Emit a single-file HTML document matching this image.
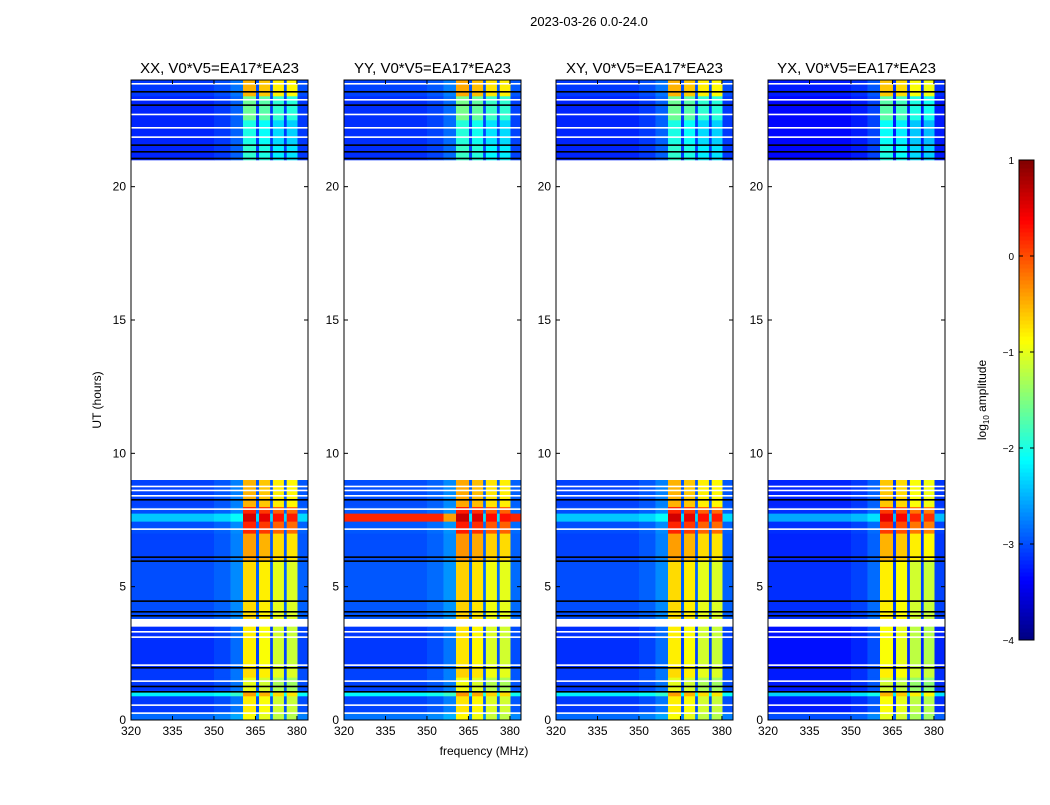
<!DOCTYPE html>
<html><head><meta charset="utf-8"><style>
body{margin:0;background:#fff;font-family:"Liberation Sans",sans-serif}
svg text{font-family:"Liberation Sans",sans-serif}
</style></head><body>
<svg id="chart" width="1050" height="800" xmlns="http://www.w3.org/2000/svg">
<rect width="1050" height="800" fill="#fff"/>
<text x="589" y="26" font-size="13" text-anchor="middle">2023-03-26 0.0-24.0</text>
<text transform="translate(101,400) rotate(-90)" font-size="12" text-anchor="middle">UT (hours)</text>
<text x="484" y="755" font-size="12" text-anchor="middle">frequency (MHz)</text>
<g id="panels"></g>
<g id="cbar"></g>
<text transform="translate(986,400) rotate(-90)" font-size="12" text-anchor="middle">log<tspan font-size="8" dy="3">10</tspan><tspan dy="-3"> amplitude</tspan></text>
</svg>
<script>
const panelTitles = ["XX, V0*V5=EA17*EA23","YY, V0*V5=EA17*EA23","XY, V0*V5=EA17*EA23","YX, V0*V5=EA17*EA23"];
const panelBaseShift = [0, 0.05, 0, -0.15];
const panelHotShift = [0, 0.05, 0, -0.1];
const xTicks = [320,335,350,365,380];
const yTicks = [0,5,10,15,20];
const cbTicks = [1,0,-1,-2,-3,-4];
const rowStart = [0, 0.3, 0.9, 1.1, 1.6, 2.0, 3.8, 6.0, 7.0, 7.45, 7.75, 8.0, 21.0, 21.6, 22.5, 23.4];
const rowEnd   = [0.3, 0.9, 1.1, 1.6, 2.0, 3.5, 6.0, 7.0, 7.45, 7.75, 8.0, 9.0, 21.6, 22.5, 23.4, 24.0];
const rowBase  = [-2.85,-3.1,-2.2,-3.1,-3.1,-3.15,-3.0,-3.05,-3.0,-2.4,-3.0,-3.05,-3.2,-3.2,-3.2,-3.1];
const rowHot   = [-1.0,-0.9,-0.5,-1.1,-0.8,-0.9,-0.8,-0.5,0.1,0.5,0.1,-0.6,-2.0,-2.1,-1.7,-0.6];
const yyRowStart = [7.45];
const yyRowEnd = [7.75];
const yyRowVal = [0.2];
const colStart = [320, 350, 356, 360.5, 365.2, 366.3, 370.3, 371.3, 375.3, 376.3, 380.2];
const colEnd   = [350, 356, 360.5, 365.2, 366.3, 370.3, 371.3, 375.3, 376.3, 380.2, 384];
const colKind  = [0,0,0,1,2,1,2,1,2,1,0];
const colOff   = [0,0.1,0.3,0.1,0.1,0.0,0.1,-0.2,0.1,-0.25,0.1];
const flagHour = [0.25,0.55,1.05,1.25,1.45,1.95,2.05,3.1,3.3,3.9,4.05,4.45,5.95,6.1,7.15,7.9,8.25,8.4,8.6,8.75,21.05,21.3,21.55,21.85,22.2,22.7,23.05,23.25,23.55,23.85];
const flagType = [1,1,0,0,1,0,1,1,1,0,0,0,0,0,1,1,0,1,1,1,0,0,0,1,1,1,0,1,0,1];

function jet(v){
  let t=(v+4)/5; t=Math.max(0,Math.min(1,t));
  const c=x=>Math.round(255*Math.max(0,Math.min(1,x)));
  const r=c(1.5-Math.abs(4*t-3)), g=c(1.5-Math.abs(4*t-2)), b=c(1.5-Math.abs(4*t-1));
  return `rgb(${r},${g},${b})`;
}
const NS="http://www.w3.org/2000/svg";
function mk(tag,attrs,parent){const e=document.createElementNS(NS,tag);for(const k in attrs)e.setAttribute(k,attrs[k]);parent.appendChild(e);return e;}
const panelsG=document.getElementById('panels');
const panelX=[131,344,556,768], pw=177, pTop=80, pBot=720;
const yScale=h=>pBot-(h/24)*(pBot-pTop);
panelX.forEach((px,p)=>{
  const xScale=f=>px+(f-320)/64*pw;
  const g=mk('g',{},panelsG);
  
  
  for(let r=0;r<rowStart.length;r++){
    for(let c=0;c<colStart.length;c++){
      let v;
      if(colKind[c]===1) v=rowHot[r]+panelHotShift[p]+colOff[c];
      else v=rowBase[r]+panelBaseShift[p]+colOff[c];
      if(p===1) for(let k=0;k<yyRowStart.length;k++) if(rowStart[r]>=yyRowStart[k]&&rowEnd[r]<=yyRowEnd[k]&&colKind[c]===0) v=yyRowVal[k]-(c===2?0.6:0);
      const x0=xScale(colStart[c]), x1=xScale(colEnd[c]);
      const y0=yScale(rowEnd[r]), y1=yScale(rowStart[r]);
      const cell=mk('rect',{x:x0,y:y0,width:x1-x0+0.3,height:y1-y0+0.3,fill:jet(v)},g);
      
      
    }
  }
  flagHour.forEach((h,i)=>{
    const ln=mk('rect',{x:px,y:yScale(h)-1,width:pw,height:1.6,fill:flagType[i]?'#fff':'#000'},g);
    
    
  });
  mk('rect',{x:px,y:pTop,width:pw,height:pBot-pTop,fill:'none',stroke:'#000','stroke-width':1},g);
  xTicks.forEach(f=>{
    const x=xScale(f);
    mk('line',{x1:x,y1:pBot,x2:x,y2:pBot-4,stroke:'#000'},g);
    mk('line',{x1:x,y1:pTop,x2:x,y2:pTop+4,stroke:'#000'},g);
    const t=mk('text',{x:x,y:pBot+15,'font-size':12,'text-anchor':'middle'},g);
    t.textContent=f;
    
    
  });
  yTicks.forEach(h=>{
    const y=yScale(h);
    mk('line',{x1:px,y1:y,x2:px+4,y2:y,stroke:'#000'},g);
    mk('line',{x1:px+pw,y1:y,x2:px+pw-4,y2:y,stroke:'#000'},g);
    const t=mk('text',{x:px-5,y:y+4,'font-size':12,'text-anchor':'end'},g);
    t.textContent=h;
    
    
  });
  const tt=mk('text',{x:px+pw/2,y:73,'font-size':15,'text-anchor':'middle'},g);
  tt.textContent=panelTitles[p];
  
  
});
const cb=document.getElementById('cbar');
const cbX=1019,cbW=15,cbTop=160,cbBot=640;
const cbY=v=>cbBot-(v+4)/5*(cbBot-cbTop);
for(let i=0;i<120;i++){
  const v0=-4+5*i/120, v1=-4+5*(i+1)/120;
  mk('rect',{x:cbX,y:cbY(v1),width:cbW,height:cbY(v0)-cbY(v1)+0.5,fill:jet((v0+v1)/2)},cb);
}
mk('rect',{x:cbX,y:cbTop,width:cbW,height:cbBot-cbTop,fill:'none',stroke:'#000'},cb);
cbTicks.forEach(v=>{
  const y=cbY(v);
  mk('line',{x1:cbX,y1:y,x2:cbX+4,y2:y,stroke:'#000'},cb);
  mk('line',{x1:cbX+cbW,y1:y,x2:cbX+cbW-4,y2:y,stroke:'#000'},cb);
  const t=mk('text',{x:cbX-5,y:y+4,'font-size':10,'text-anchor':'end'},cb);
  t.textContent=v<0?'\u2212'+(-v):v;
  
  
});
</script>
</body></html>
